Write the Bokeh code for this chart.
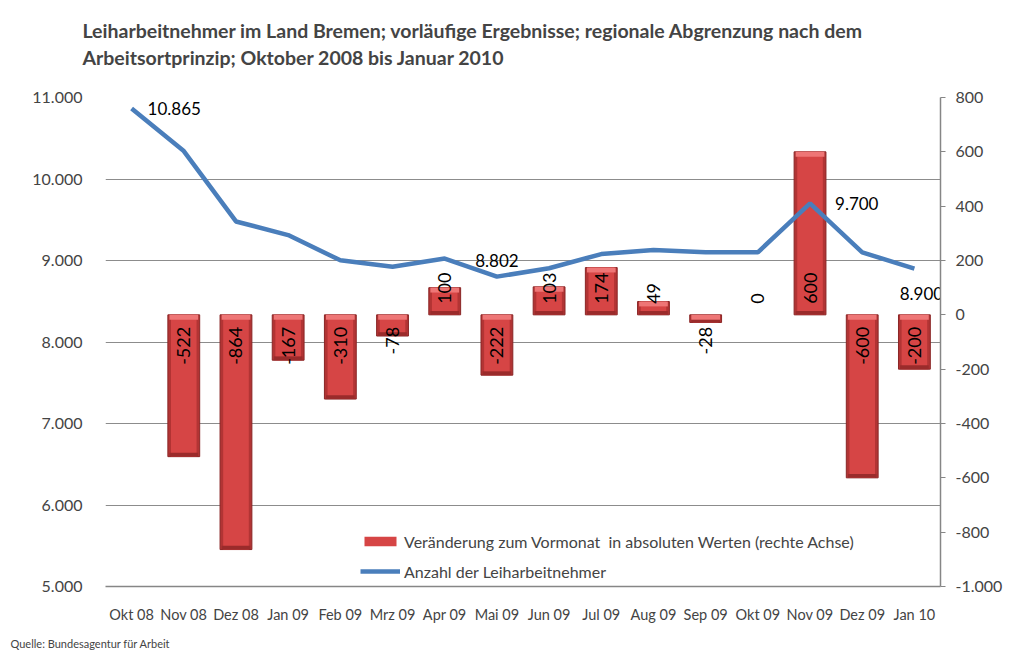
from math import pi
from bokeh.plotting import figure
from bokeh.models import (ColumnDataSource, FactorRange, Range1d, LinearAxis, FixedTicker,
                          Legend, LegendItem, Title)
from bokeh.embed import file_html
from bokeh.resources import INLINE
from bokeh.core.properties import value

months = ["Okt 08", "Nov 08", "Dez 08", "Jan 09", "Feb 09", "Mrz 09", "Apr 09", "Mai 09",
          "Jun 09", "Jul 09", "Aug 09", "Sep 09", "Okt 09", "Nov 09", "Dez 09", "Jan 10"]
workers = [10865, 10343, 9479, 9312, 9002, 8924, 9024, 8802,
           8905, 9079, 9128, 9100, 9100, 9700, 9100, 8900]
bar_months = months[1:]
changes = [-522, -864, -167, -310, -78, 100, -222, 103, 174, 49, -28, 0, 600, -600, -200]

left_ticks = [5000, 6000, 7000, 8000, 9000, 10000, 11000]
left_tick_labels = ["5.000", "6.000", "7.000", "8.000", "9.000", "10.000", "11.000"]
right_ticks = [-1000, -800, -600, -400, -200, 0, 200, 400, 600, 800]
right_tick_labels = ["-1.000", "-800", "-600", "-400", "-200", "0", "200", "400", "600", "800"]

labeled_months = ["Okt 08", "Mai 09", "Nov 09", "Jan 10"]

title_lines = ["Leiharbeitnehmer im Land Bremen; vorläufige Ergebnisse; regionale Abgrenzung nach dem",
               "Arbeitsortprinzip; Oktober 2008 bis Januar 2010"]
source_text = "Quelle: Bundesagentur für Arbeit"
bar_name = "Veränderung zum Vormonat  in absoluten Werten (rechte Achse)"
line_name = "Anzahl der Leiharbeitnehmer"

FONT = "Lato"

def de(v):
    return f"{v:,}".replace(",", ".")

p = figure(width=1012, height=658, x_range=FactorRange(*months), y_range=Range1d(5000, 11000),
           output_backend="svg", toolbar_location=None,
           min_border_left=105, min_border_right=72, min_border_top=97, min_border_bottom=72)
p.extra_y_ranges = {"right": Range1d(-1000, 800)}
p.x_range.range_padding = 0
p.outline_line_color = None
p.background_fill_color = "white"

# title: first line is the plot title (outermost), second line a sub-title,
# separated from the frame by an empty spacer title
p.title.text = title_lines[0]
p.title.align = "left"
p.title.offset = -23
p.title.text_font = FONT
p.title.text_font_style = "bold"
p.title.text_font_size = "19.5px"
p.title.standoff = 0
p.add_layout(Title(text=" ", align="left", text_font=FONT, text_font_size="2px",
                   standoff=23), "above")
p.add_layout(Title(text=title_lines[1], align="left", offset=-23, text_font=FONT,
                   text_font_style="bold", text_font_size="19.5px", standoff=4), "above")

src = Title(text=source_text, align="left", offset=-95, text_font=FONT, text_font_size="11px",
            text_font_style="normal", standoff=18)
p.add_layout(src, "below")

# left axis
ya = p.yaxis[0]
ya.ticker = FixedTicker(ticks=left_ticks)
ya.major_label_overrides = {t: l for t, l in zip(left_ticks, left_tick_labels)}
ya.axis_line_color = None
ya.major_tick_line_color = None
ya.minor_tick_line_color = None
ya.major_label_standoff = 17
ya.major_label_text_font = FONT
ya.major_label_text_font_size = "16px"

# right axis
ra = LinearAxis(y_range_name="right", ticker=FixedTicker(ticks=right_ticks))
ra.major_label_overrides = {t: l for t, l in zip(right_ticks, right_tick_labels)}
ra.axis_line_color = "#868686"
ra.axis_line_width = 1.5
ra.major_tick_line_color = "#868686"
ra.major_tick_in = 0
ra.major_tick_out = 5
ra.minor_tick_line_color = None
ra.major_label_standoff = 10
ra.major_label_text_font = FONT
ra.major_label_text_font_size = "16px"
p.add_layout(ra, "right")

# x axis
xa = p.xaxis[0]
xa.axis_line_color = "#868686"
xa.axis_line_width = 1.5
xa.major_tick_line_color = None
xa.minor_tick_line_color = None
xa.major_label_standoff = 13
xa.major_label_text_font = FONT
xa.major_label_text_font_size = "14.5px"

p.xgrid.grid_line_color = None
p.ygrid.ticker = FixedTicker(ticks=left_ticks)
p.ygrid.grid_line_color = "#8C8C8C"
p.ygrid.grid_line_width = 1

# bars (3D-looking: dark frame, lighter core, light top bevel, dark bottom bevel)
nz = ColumnDataSource(dict(
    x=[m for m, v in zip(bar_months, changes) if v != 0],
    top=[v for v in changes if v != 0],
    strip_top=[max(v, 0) for v in changes if v != 0],
    strip_bot=[max(v, 0) - min(18, abs(v)) for v in changes if v != 0],
    low_bot=[min(v, 0) for v in changes if v != 0],
    low_top=[min(v, 0) + min(14, abs(v) / 2) for v in changes if v != 0],
))
base = p.vbar(x="x", top="top", bottom=0, width=0.61, source=nz, y_range_name="right",
              fill_color="#B23434", line_color="#8A2626", line_width=1)
core = p.vbar(x="x", top="top", bottom=0, width=0.49, source=nz, y_range_name="right",
              fill_color="#D64545", line_color=None)
p.vbar(x="x", top="low_top", bottom="low_bot", width=0.55, source=nz, y_range_name="right",
       fill_color="#9A2B2B", line_color=None)
p.vbar(x="x", top="strip_top", bottom="strip_bot", width=0.55, source=nz, y_range_name="right",
       fill_color="#EE7676", line_color=None)

pos = ColumnDataSource(dict(x=[m for m, v in zip(bar_months, changes) if v >= 0],
                            t=[de(v) for v in changes if v >= 0]))
neg = ColumnDataSource(dict(x=[m for m, v in zip(bar_months, changes) if v < 0],
                            t=[de(v) for v in changes if v < 0]))
p.text(x="x", y=0, text="t", source=pos, y_range_name="right", angle=pi / 2,
       text_align="left", text_baseline="middle", y_offset=-11,
       text_font=value(FONT), text_font_size="18px", text_color="black")
p.text(x="x", y=0, text="t", source=neg, y_range_name="right", angle=pi / 2,
       text_align="right", text_baseline="middle", y_offset=12,
       text_font=value(FONT), text_font_size="18px", text_color="black")

# line
line = p.line(x=months, y=workers, line_color="#4A7EBB", line_width=4.5)

offs = {"Okt 08": (16, 0, "left"), "Mai 09": (0, -16, "center"),
        "Nov 09": (25, 0, "left"), "Jan 10": (7, 25, "center")}
for m in labeled_months:
    i = months.index(m)
    dx, dy, al = offs[m]
    p.text(x=[m], y=[workers[i]], text=[de(workers[i])], x_offset=dx, y_offset=dy,
           text_align=al, text_baseline="middle",
           text_font=value(FONT), text_font_size="17px", text_color="black")

legend = Legend(items=[LegendItem(label=bar_name, renderers=[core]),
                       LegendItem(label=line_name, renderers=[line])],
                location=(250, 0), background_fill_alpha=0, border_line_alpha=0,
                glyph_width=40, glyph_height=12, label_height=20, spacing=10, padding=5,
                label_standoff=4, label_text_font=FONT, label_text_font_size="16px", margin=0)
p.add_layout(legend)

open("out.html", "w").write(file_html(p, INLINE))
